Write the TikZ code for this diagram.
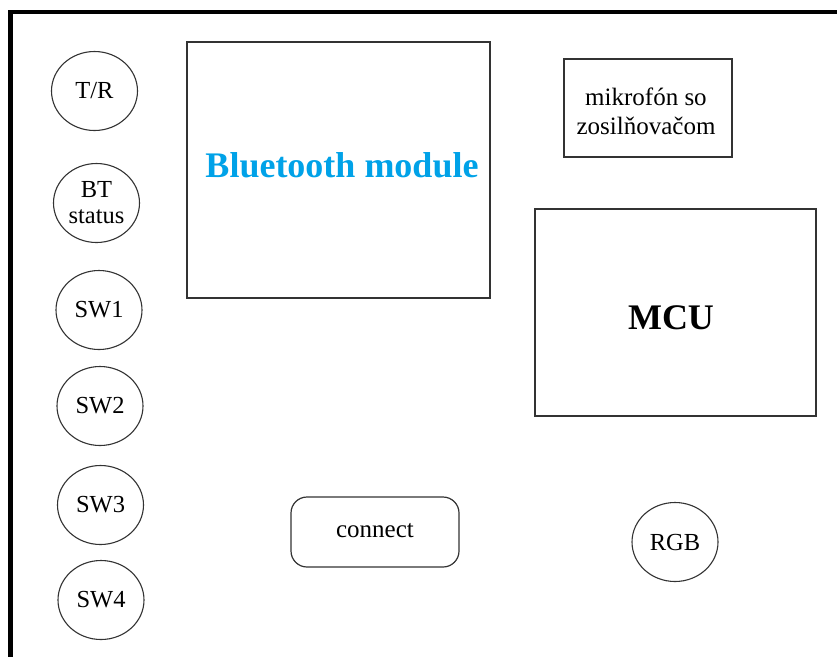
\documentclass[tikz,border=0pt]{standalone}
\usepackage{fontspec}
\setmainfont{Liberation Serif}[UprightFont=*, BoldFont=* Bold]
\usetikzlibrary{shapes.geometric}
\definecolor{btblue}{HTML}{00A2E8}
\definecolor{edge}{HTML}{333333}
\tikzset{
  frameline/.style={line width=4.3pt, black},
  knob/.style={ellipse, draw=edge, line width=1.1pt, minimum width=86pt,
    minimum height=79pt, inner sep=0pt, align=center,
    font=\rmfamily\fontsize{24.5}{27}\selectfont},
  block/.style={draw=edge, line width=1.4pt, inner sep=0pt},
  label/.style={inner sep=0pt, align=center},
}
\begin{document}
\begin{tikzpicture}[x=1pt, y=-1pt]
  \useasboundingbox (0,0) rectangle (837,657);
  \fill[white] (0,0) rectangle (837,657);

  % outer frame: top and left edges only
  \draw[frameline] (8.5,12) -- (837,12);
  \draw[frameline] (10.5,10) -- (10.5,657);

  % round indicators and switches
  \node[knob] (tr)  at (94.5,91)  {T/R};
  \node[knob] (bts) at (96.5,203) {BT\\[-1pt]status};
  \node[knob] (sw1) at (99,310)   {SW1};
  \node[knob] (sw2) at (100,406)  {SW2};
  \node[knob] (sw3) at (100.5,505){SW3};
  \node[knob] (sw4) at (101,600)  {SW4};
  \node[knob] (rgb) at (675,542)  {RGB};

  % rectangular blocks
  \draw[block] (187,42) rectangle (490,298);
  \node[label, text=btblue, font=\rmfamily\fontsize{36}{40}\selectfont\bfseries] (bt) at (342,165) {Bluetooth module};

  \draw[block] (564,59) rectangle (732,157);
  \node[label, font=\rmfamily\fontsize{25}{29}\selectfont] (mic) at (646,111) {mikrofón so\\zosilňovačom};

  \draw[block] (535,209) rectangle (816,416);
  \node[label, font=\rmfamily\fontsize{36}{40}\selectfont\bfseries] (mcu) at (671,318) {MCU};

  \draw[block, line width=1.2pt, rounded corners=16pt] (291,497) rectangle (459,567);
  \node[label, font=\rmfamily\fontsize{25}{29}\selectfont] (conn) at (375,531) {connect};
\end{tikzpicture}
\end{document}
